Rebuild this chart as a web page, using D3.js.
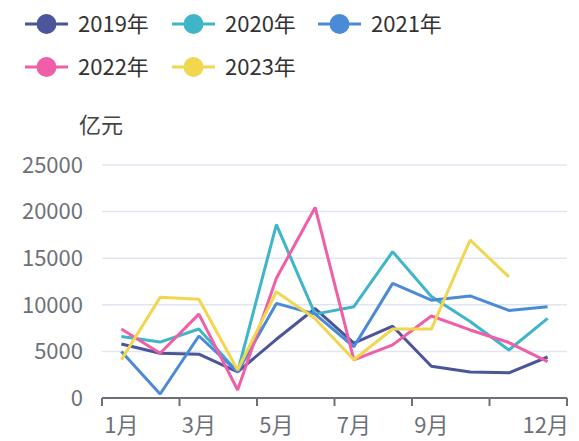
<!DOCTYPE html>
<html>
<head>
<meta charset="utf-8">
<title>月度数据</title>
<style>
  body { margin: 0; background: #fff; }
  svg text { font-family: "Noto Sans CJK SC", "Noto Sans", sans-serif; }
</style>
</head>
<body>
<script src="https://cdn.jsdelivr.net/npm/d3@7/dist/d3.min.js"></script>
<script>
// data
var months = ["1月","2月","3月","4月","5月","6月","7月","8月","9月","10月","11月","12月"];
var shownLabels = ["1月","3月","5月","7月","9月","12月"];
var yTicks = [0, 5000, 10000, 15000, 20000, 25000];
var seriesNames = ["2019年","2020年","2021年","2022年","2023年"];
var colors = ["#4a559a","#3eb5c8","#4a8ad6","#f05ea8","#f2d64d"];

var v2019 = [5800, 4800, 4700, 2800, 6300, 9600, 5900, 7700, 3400, 2800, 2700, 4400];
var v2020 = [6600, 6000, 7400, 2800, 18600, 9000, 9800, 15700, 10900, 8200, 5150, 8550];
var v2021 = [5000, 430, 6650, 2800, 10150, 9000, 5500, 12300, 10500, 10950, 9400, 9800];
var v2022 = [7400, 4800, 9000, 860, 12850, 20450, 4100, 5700, 8800, 7300, 5950, 3900];
var v2023 = [4100, 10800, 10600, 3000, 11400, 8500, 4100, 7400, 7400, 16950, 13000, null];
var allValues = [v2019, v2020, v2021, v2022, v2023];

var w = 579, h = 441;
var mLeft = 102, mRight = 567, mTop = 165, mBottom = 398;
var fs = "22px";

var svg = d3.select("body").append("svg")
    .attr("width", w)
    .attr("height", h);

var x = d3.scaleBand().domain(months).range([mLeft, mRight]);
var y = d3.scaleLinear().domain([0, 25000]).range([mBottom, mTop]);

// grid lines
svg.append("g").selectAll("line")
    .data(yTicks.slice(1))
    .enter().append("line")
    .attr("x1", mLeft).attr("x2", mRight)
    .attr("y1", function(d) { return y(d); })
    .attr("y2", function(d) { return y(d); })
    .attr("stroke", "#e0e6f1")
    .attr("stroke-width", 1.5);

// y labels
svg.append("g").selectAll("text")
    .data(yTicks)
    .enter().append("text")
    .attr("x", 83)
    .attr("y", function(d) { return y(d); })
    .attr("dy", "0.35em")
    .attr("text-anchor", "end")
    .attr("fill", "#6e7079")
    .style("font-size", fs)
    .text(function(d) { return d; });

svg.append("text")
    .attr("x", 101)
    .attr("y", 125)
    .attr("dy", "0.35em")
    .attr("text-anchor", "middle")
    .attr("fill", "#444")
    .style("font-size", fs)
    .text("亿元");

// x axis
var xAxis = svg.append("g");
xAxis.append("line")
    .attr("x1", mLeft).attr("x2", mRight)
    .attr("y1", mBottom).attr("y2", mBottom)
    .attr("stroke", "#6e7079")
    .attr("stroke-width", 2);

var tickPos = [];
for (var i = 0; i <= months.length; i += 2) tickPos.push(mLeft + i * x.step());
xAxis.selectAll(".tick")
    .data(tickPos)
    .enter().append("line")
    .attr("x1", function(d) { return d; })
    .attr("x2", function(d) { return d; })
    .attr("y1", mBottom).attr("y2", mBottom + 8)
    .attr("stroke", "#6e7079")
    .attr("stroke-width", 2);

xAxis.selectAll("text")
    .data(shownLabels)
    .enter().append("text")
    .attr("x", function(d) { return d === "12月" ? mRight + 2 : x(d) + x.bandwidth() / 2; })
    .attr("y", 425)
    .attr("dy", "0.35em")
    .attr("text-anchor", function(d) { return d === "12月" ? "end" : "middle"; })
    .attr("fill", "#6e7079")
    .style("font-size", fs)
    .text(function(d) { return d; });

// lines
var line = d3.line()
    .defined(function(d) { return d != null; })
    .x(function(d, i) { return x(months[i]) + x.bandwidth() / 2; })
    .y(function(d) { return y(d); });

svg.append("g").selectAll("path")
    .data(allValues)
    .enter().append("path")
    .attr("d", line)
    .attr("fill", "none")
    .attr("stroke", function(d, i) { return colors[i]; })
    .attr("stroke-width", 3)
    .attr("stroke-linejoin", "bevel");

// legend
var legendPos = [[25, 24], [172, 24], [318, 24], [25, 67], [172, 67]];
var legend = svg.append("g").selectAll("g")
    .data(seriesNames)
    .enter().append("g")
    .attr("transform", function(d, i) { return "translate(" + legendPos[i][0] + "," + legendPos[i][1] + ")"; });

legend.append("line")
    .attr("x1", 0).attr("x2", 43)
    .attr("stroke", function(d, i) { return colors[i]; })
    .attr("stroke-width", 3);
legend.append("circle")
    .attr("cx", 21.5)
    .attr("r", 10)
    .attr("fill", function(d, i) { return colors[i]; });
legend.append("text")
    .attr("x", 53)
    .attr("dy", "0.35em")
    .attr("fill", "#333")
    .style("font-size", fs)
    .text(function(d) { return d; });
</script>
</body>
</html>
